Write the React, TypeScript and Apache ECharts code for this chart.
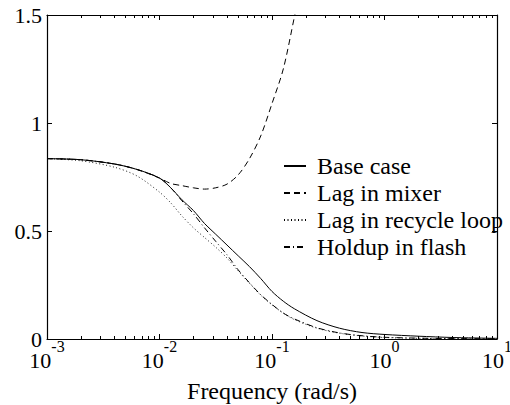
import React, { useEffect, useRef } from "react";
import * as echarts from "echarts";

// Frequency grid (rad/s)
const freq = [
  0.001, 0.002, 0.004, 0.0063, 0.01, 0.0126, 0.0158, 0.02, 0.0251, 0.0316,
  0.0398, 0.0501, 0.0631, 0.0794, 0.1, 0.126, 0.158, 0.251, 0.398, 0.631,
  1, 2, 4, 10,
];

const baseCase = [
  0.835, 0.83, 0.81, 0.785, 0.745, 0.7, 0.645, 0.595, 0.535, 0.485,
  0.435, 0.385, 0.335, 0.28, 0.22, 0.175, 0.14, 0.085, 0.05, 0.03,
  0.021, 0.013, 0.007, 0.003,
];

const mixerFreq = [
  0.001, 0.002, 0.004, 0.0063, 0.01, 0.0126, 0.0158, 0.02, 0.0251, 0.0316,
  0.0398, 0.0501, 0.0631, 0.0794, 0.1, 0.126, 0.158, 0.178,
];
const lagMixer = [
  0.835, 0.83, 0.81, 0.785, 0.745, 0.72, 0.71, 0.7, 0.694, 0.7,
  0.717, 0.76, 0.835, 0.94, 1.09, 1.25, 1.49, 1.62,
];

const lagRecycle = [
  0.835, 0.825, 0.795, 0.755, 0.68, 0.63, 0.57, 0.515, 0.47, 0.425,
  0.375, 0.315, 0.258, 0.203, 0.158, 0.12, 0.09, 0.05, 0.027, 0.014,
  0.007, 0.003, 0.0015, 0.0005,
];

const holdupFlash = [
  0.835, 0.83, 0.81, 0.785, 0.745, 0.7, 0.64, 0.58, 0.515, 0.452,
  0.39, 0.32, 0.26, 0.205, 0.16, 0.12, 0.093, 0.052, 0.028, 0.015,
  0.008, 0.004, 0.002, 0.001,
];

const seriesNames = ["Base case", "Lag in mixer", "Lag in recycle loop", "Holdup in flash"];
const xTitle = "Frequency (rad/s)";

const FONT = "Liberation Serif";

const SUP: Record<string, string> = { "-": "\u207B", "0": "\u2070", "1": "\u00B9", "2": "\u00B2", "3": "\u00B3" };

function pairs(xs: number[], ys: number[]) {
  return xs.map((x, i) => [x, ys[i]]);
}

function buildOption(level: number) {
  const useRich = level <= 1;
  const useAxisName = level === 0;
  const topMinor = level <= 2;
  const extraAxes = level <= 3;
  const fullLegend = level <= 2;

  const mkLine = () => ({ show: true, onZero: false, lineStyle: { color: "#000", width: 1.2 } });
  const mkTick = (len: number) => ({ show: true, inside: true, length: len, lineStyle: { color: "#000", width: 1 } });
  const mkMinor = () => ({ show: true, splitNumber: 9, length: 3, lineStyle: { color: "#000", width: 1 } });

  const lineSeries = (name: string, data: number[][], type: any, width: number) => ({
    name,
    type: "line",
    data,
    showSymbol: false,
    symbol: "none",
    smooth: 0.3,
    clip: true,
    lineStyle: { color: "#000", width, type },
    itemStyle: { color: "#000" },
  });

  const expOf = (v: number) => String(Math.round(Math.log10(v)));

  const xLabel: any = useRich
    ? {
        margin: 10,
        fontFamily: FONT,
        formatter: (v: number) => "{b|10}{s|" + expOf(v) + "}",
        rich: {
          b: { fontSize: 22, lineHeight: 22, fontFamily: FONT, color: "#000" },
          s: { fontSize: 16, lineHeight: 16, fontFamily: FONT, color: "#000", padding: [0, 0, 28, 0] },
        },
      }
    : {
        margin: 8,
        fontFamily: FONT,
        fontSize: 22,
        color: "#000",
        formatter: (v: number) => "10" + expOf(v).split("").map((c) => SUP[c] || c).join(""),
      };

  const xMain: any = {
    type: "log",
    logBase: 10,
    min: 0.001,
    max: 10,
    axisLine: mkLine(),
    axisTick: mkTick(5),
    minorTick: mkMinor(),
    splitLine: { show: false },
    axisLabel: xLabel,
  };
  if (useAxisName) {
    Object.assign(xMain, {
      name: xTitle,
      nameLocation: "middle",
      nameGap: 40,
      nameMoveOverlap: false,
      nameTextStyle: { fontFamily: FONT, fontSize: 24, color: "#000" },
    });
  }
  const xAxes: any[] = [xMain];
  const yAxes: any[] = [
    {
      type: "value",
      min: 0,
      max: 1.5,
      interval: 0.5,
      axisLine: mkLine(),
      axisTick: mkTick(5),
      splitLine: { show: false },
      axisLabel: { margin: 5, fontFamily: FONT, fontSize: 22, color: "#000" },
    },
  ];
  if (extraAxes) {
    const top: any = {
      type: "log",
      logBase: 10,
      min: 0.001,
      max: 10,
      position: "top",
      axisLine: mkLine(),
      axisTick: mkTick(5),
      splitLine: { show: false },
      axisLabel: { show: false },
    };
    if (topMinor) top.minorTick = mkMinor();
    xAxes.push(top);
    yAxes.push({
      type: "value",
      min: 0,
      max: 1.5,
      interval: 0.5,
      position: "right",
      axisLine: mkLine(),
      axisTick: mkTick(5),
      splitLine: { show: false },
      axisLabel: { show: false },
    });
  }

  const legend: any = fullLegend
    ? {
        orient: "vertical",
        left: 283,
        top: 154,
        padding: 0,
        itemGap: 3,
        itemWidth: 22,
        itemHeight: 14,
        selectedMode: false,
        data: seriesNames,
        itemStyle: { opacity: 0 },
        textStyle: { fontFamily: FONT, fontSize: 24, lineHeight: 24, color: "#000", padding: [0, 0, 0, 6] },
      }
    : {
        orient: "vertical",
        left: 283,
        top: 154,
        padding: 0,
        itemGap: 1,
        itemWidth: 22,
        itemHeight: 14,
        selectedMode: false,
        data: seriesNames,
        itemStyle: { opacity: 0 },
        textStyle: { fontFamily: FONT, fontSize: 24, color: "#000" },
      };

  const option: any = {
    animation: false,
    backgroundColor: "#fff",
    textStyle: { fontFamily: FONT },
    grid: { left: 47, right: 13, top: 15, bottom: 66, containLabel: false, outerBoundsMode: "none" },
    legend,
    xAxis: xAxes,
    yAxis: yAxes,
    series: [
      lineSeries(seriesNames[0], pairs(freq, baseCase), "solid", 1),
      lineSeries(seriesNames[1], pairs(mixerFreq, lagMixer), [6, 4], 1),
      lineSeries(seriesNames[2], pairs(freq, lagRecycle), [1, 2.5], 0.9),
      lineSeries(seriesNames[3], pairs(freq, holdupFlash), [6, 3, 1, 3], 1),
    ],
  };
  if (!useAxisName) {
    option.graphic = [
      {
        type: "text",
        x: 272,
        y: 391,
        silent: true,
        style: {
          text: xTitle,
          fontFamily: FONT,
          fontSize: 24,
          fill: "#000",
          textAlign: "center",
          textVerticalAlign: "middle",
        },
      },
    ];
  }
  return option;
}

export default function App() {
  const ref = useRef<HTMLDivElement>(null);
  useEffect(() => {
    const host = ref.current;
    if (!host) return;
    let chart: any = null;
    const LAST = 4;
    for (let level = 0; level <= LAST; level++) {
      const node = document.createElement("div");
      node.style.width = "510px";
      node.style.height = "405px";
      node.style.position = "absolute";
      node.style.left = "0px";
      node.style.top = "0px";
      host.appendChild(node);
      let ok = true;
      try {
        chart = echarts.init(node, null, { renderer: "svg" });
        chart.setOption(buildOption(level));
        chart.getZr().flush();
        ok = node.innerHTML.indexOf("Liberation") >= 0;
      } catch (e) {
        ok = false;
      }
      if (ok || level === LAST) break;
      try {
        if (chart) chart.dispose();
      } catch (e) {
        /* ignore */
      }
      chart = null;
      if (node.parentNode === host) host.removeChild(node);
    }
    return () => {
      try {
        if (chart) chart.dispose();
      } catch (e) {
        /* ignore */
      }
      host.innerHTML = "";
    };
  }, []);
  return (
    <div
      ref={ref}
      style={{ position: "fixed", left: 0, top: 0, width: 510, height: 405, background: "#fff" }}
    />
  );
}
